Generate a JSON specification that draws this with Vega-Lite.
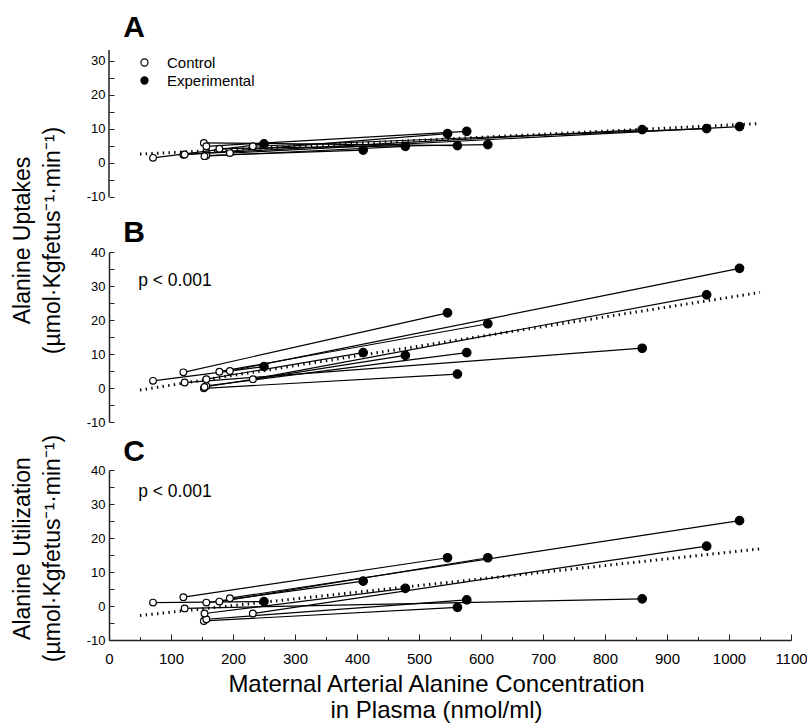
{
  "$schema": "https://vega.github.io/schema/vega-lite/v6.json",
  "background": "white",
  "padding": {"left": 10, "top": 13, "right": 0, "bottom": 2},
  "bounds": "flush",
  "spacing": 48,
  "config": {
    "view": {"stroke": null},
    "font": "Liberation Sans",
    "axis": {"labelColor": "black", "titleColor": "black", "domainColor": "#222", "tickColor": "#222", "domainWidth": 1.5, "tickWidth": 1, "grid": false, "labelFont": "Liberation Sans", "labelFontSize": 13, "titleFontWeight": "normal", "titleFont": "Liberation Sans", "labelOverlap": false, "labelBound": false}
  },
  "resolve": {"legend": {"fill": "independent"}},
  "datasets": {
    "pts": [
      {"panel": "A", "animal": 1, "group": "Control", "x": 71, "y": 1.5},
      {"panel": "A", "animal": 1, "group": "Experimental", "x": 250, "y": 5.6},
      {"panel": "A", "animal": 2, "group": "Control", "x": 120, "y": 2.4},
      {"panel": "A", "animal": 2, "group": "Experimental", "x": 546, "y": 8.6},
      {"panel": "A", "animal": 3, "group": "Control", "x": 122, "y": 2.5},
      {"panel": "A", "animal": 3, "group": "Experimental", "x": 860, "y": 9.8},
      {"panel": "A", "animal": 4, "group": "Control", "x": 157, "y": 2.2},
      {"panel": "A", "animal": 4, "group": "Experimental", "x": 410, "y": 3.8},
      {"panel": "A", "animal": 5, "group": "Control", "x": 178, "y": 4.2},
      {"panel": "A", "animal": 5, "group": "Experimental", "x": 611, "y": 5.4},
      {"panel": "A", "animal": 6, "group": "Control", "x": 195, "y": 2.9},
      {"panel": "A", "animal": 6, "group": "Experimental", "x": 1017, "y": 10.7},
      {"panel": "A", "animal": 7, "group": "Control", "x": 232, "y": 4.9},
      {"panel": "A", "animal": 7, "group": "Experimental", "x": 964, "y": 10.1},
      {"panel": "A", "animal": 8, "group": "Control", "x": 153, "y": 5.9},
      {"panel": "A", "animal": 8, "group": "Experimental", "x": 562, "y": 5.1},
      {"panel": "A", "animal": 9, "group": "Control", "x": 157, "y": 4.9},
      {"panel": "A", "animal": 9, "group": "Experimental", "x": 577, "y": 9.3},
      {"panel": "A", "animal": 10, "group": "Control", "x": 154, "y": 2.0},
      {"panel": "A", "animal": 10, "group": "Experimental", "x": 478, "y": 4.9},
      {"panel": "B", "animal": 1, "group": "Control", "x": 71, "y": 2.1},
      {"panel": "B", "animal": 1, "group": "Experimental", "x": 250, "y": 6.3},
      {"panel": "B", "animal": 2, "group": "Control", "x": 120, "y": 4.6},
      {"panel": "B", "animal": 2, "group": "Experimental", "x": 546, "y": 22.1},
      {"panel": "B", "animal": 3, "group": "Control", "x": 122, "y": 1.6},
      {"panel": "B", "animal": 3, "group": "Experimental", "x": 860, "y": 11.7},
      {"panel": "B", "animal": 4, "group": "Control", "x": 157, "y": 2.6},
      {"panel": "B", "animal": 4, "group": "Experimental", "x": 410, "y": 10.4},
      {"panel": "B", "animal": 5, "group": "Control", "x": 178, "y": 4.8},
      {"panel": "B", "animal": 5, "group": "Experimental", "x": 611, "y": 18.9},
      {"panel": "B", "animal": 6, "group": "Control", "x": 195, "y": 5.0},
      {"panel": "B", "animal": 6, "group": "Experimental", "x": 1017, "y": 35.2},
      {"panel": "B", "animal": 7, "group": "Control", "x": 232, "y": 2.6},
      {"panel": "B", "animal": 7, "group": "Experimental", "x": 964, "y": 27.4},
      {"panel": "B", "animal": 8, "group": "Control", "x": 153, "y": -0.1},
      {"panel": "B", "animal": 8, "group": "Experimental", "x": 562, "y": 4.1},
      {"panel": "B", "animal": 9, "group": "Control", "x": 157, "y": 0.6},
      {"panel": "B", "animal": 9, "group": "Experimental", "x": 577, "y": 10.4},
      {"panel": "B", "animal": 10, "group": "Control", "x": 154, "y": 0.3},
      {"panel": "B", "animal": 10, "group": "Experimental", "x": 478, "y": 9.6},
      {"panel": "C", "animal": 1, "group": "Control", "x": 71, "y": 1.0},
      {"panel": "C", "animal": 1, "group": "Experimental", "x": 250, "y": 1.3},
      {"panel": "C", "animal": 2, "group": "Control", "x": 120, "y": 2.6},
      {"panel": "C", "animal": 2, "group": "Experimental", "x": 546, "y": 14.2},
      {"panel": "C", "animal": 3, "group": "Control", "x": 122, "y": -0.7},
      {"panel": "C", "animal": 3, "group": "Experimental", "x": 860, "y": 2.1},
      {"panel": "C", "animal": 4, "group": "Control", "x": 157, "y": 1.0},
      {"panel": "C", "animal": 4, "group": "Experimental", "x": 410, "y": 7.3},
      {"panel": "C", "animal": 5, "group": "Control", "x": 178, "y": 1.3},
      {"panel": "C", "animal": 5, "group": "Experimental", "x": 611, "y": 14.2},
      {"panel": "C", "animal": 6, "group": "Control", "x": 195, "y": 2.3},
      {"panel": "C", "animal": 6, "group": "Experimental", "x": 1017, "y": 25.1},
      {"panel": "C", "animal": 7, "group": "Control", "x": 232, "y": -2.2},
      {"panel": "C", "animal": 7, "group": "Experimental", "x": 964, "y": 17.6},
      {"panel": "C", "animal": 8, "group": "Control", "x": 153, "y": -4.4},
      {"panel": "C", "animal": 8, "group": "Experimental", "x": 562, "y": -0.4},
      {"panel": "C", "animal": 9, "group": "Control", "x": 157, "y": -3.9},
      {"panel": "C", "animal": 9, "group": "Experimental", "x": 577, "y": 1.8},
      {"panel": "C", "animal": 10, "group": "Control", "x": 154, "y": -2.2},
      {"panel": "C", "animal": 10, "group": "Experimental", "x": 478, "y": 5.2}
    ],
    "reg": [
      {"panel": "A", "x": 50, "y": 2.6},
      {"panel": "A", "x": 1050, "y": 11.6},
      {"panel": "B", "x": 50, "y": -0.6},
      {"panel": "B", "x": 1050, "y": 28.1},
      {"panel": "C", "x": 50, "y": -2.8},
      {"panel": "C", "x": 1050, "y": 16.8}
    ]
  },
  "vconcat": [
    {
      "width": 682,
      "height": 154,
      "layer": [
        {
          "encoding": {
            "x": {"field": "x", "type": "quantitative", "scale": {"domain": [0, 1100], "nice": false}, "axis": null},
            "y": {"field": "y", "type": "quantitative", "scale": {"domain": [-12.06, 33.2], "nice": false, "zero": false},
              "axis": {"domain": false, "values": [-10, -5, 0, 5, 10, 15, 20, 25, 30], "labelExpr": "datum.value % 10 === 0 ? toString(datum.value) : ''", "tickSize": -5, "labelPadding": 9, "labelOverlap": false, "title": null}}
          },
          "layer": [
            {"data": {"name": "pts"}, "transform": [{"filter": "datum.panel === 'A'"}],
             "mark": {"type": "line", "color": "black", "strokeWidth": 1.2},
             "encoding": {"detail": {"field": "animal", "type": "nominal"}}},
            {"data": {"name": "reg"}, "transform": [{"filter": "datum.panel === 'A'"}],
             "mark": {"type": "line", "color": "black", "strokeWidth": 3, "strokeDash": [1.4, 4.3]}},
            {"data": {"name": "pts"}, "transform": [{"filter": "datum.panel === 'A'"}],
             "mark": {"type": "point", "shape": "circle", "filled": true, "stroke": "black", "strokeWidth": 1.2, "opacity": 1},
             "encoding": {
               "fill": {"field": "group", "type": "nominal", "scale": {"domain": ["Control", "Experimental"], "range": ["white", "black"]},
                 "legend": {"title": null, "orient": "none", "legendX": 28, "legendY": 5, "padding": 0, "labelFont": "Liberation Sans", "labelFontSize": 15, "labelColor": "black", "symbolType": "circle", "symbolSize": 50, "symbolStrokeColor": "black", "symbolStrokeWidth": 1.2, "labelOffset": 15, "rowPadding": 2}},
               "size": {"field": "group", "type": "nominal", "scale": {"domain": ["Control", "Experimental"], "range": [45, 72]}, "legend": null}
             }}
          ]
        },
        {"data": {"values": [{"part": "axis"}]},
         "mark": {"type": "rule", "color": "#222", "strokeWidth": 1.5},
         "encoding": {
           "x": {"datum": 0, "type": "quantitative", "axis": null},
           "y": {"datum": -10, "type": "quantitative", "axis": {"domain": false, "values": [-10, -5, 0, 5, 10, 15, 20, 25, 30], "labelExpr": "datum.value % 10 === 0 ? toString(datum.value) : ''", "tickSize": -5, "labelPadding": 9, "labelOverlap": false, "title": null}},
           "y2": {"datum": 33.2}}},
        {"data": {"values": [{"letter": "A"}]},
         "mark": {"type": "text", "align": "left", "baseline": "alphabetic", "fontSize": 30, "fontWeight": "bold", "fill": "black"},
         "encoding": {"text": {"field": "letter", "type": "nominal"},
           "x": {"datum": 23, "type": "quantitative", "axis": null},
           "y": {"datum": 37.0, "type": "quantitative", "axis": {"domain": false, "values": [-10, -5, 0, 5, 10, 15, 20, 25, 30], "labelExpr": "datum.value % 10 === 0 ? toString(datum.value) : ''", "tickSize": -5, "labelPadding": 9, "labelOverlap": false, "title": null}}}}
      ]
    },
    {
      "width": 682,
      "height": 170,
      "layer": [
        {
          "encoding": {
            "x": {"field": "x", "type": "quantitative", "scale": {"domain": [0, 1100], "nice": false}, "axis": null},
            "y": {"field": "y", "type": "quantitative", "scale": {"domain": [-10, 40], "nice": false, "zero": false},
              "axis": {"values": [-10, -5, 0, 5, 10, 15, 20, 25, 30, 35, 40], "labelExpr": "datum.value % 10 === 0 ? toString(datum.value) : ''", "tickSize": -5, "labelPadding": 9, "labelOverlap": false,
                "title": ["Alanine Uptakes", "(µmol·Kgfetus⁻¹·min⁻¹)"], "titleFontSize": 23, "titleLineHeight": 30, "titleBaseline": "middle", "titleAlign": "center", "titleAngle": 270, "titleX": -87, "titleY": -12}}
          },
          "layer": [
            {"data": {"name": "pts"}, "transform": [{"filter": "datum.panel === 'B'"}],
             "mark": {"type": "line", "color": "black", "strokeWidth": 1.2},
             "encoding": {"detail": {"field": "animal", "type": "nominal"}}},
            {"data": {"name": "reg"}, "transform": [{"filter": "datum.panel === 'B'"}],
             "mark": {"type": "line", "color": "black", "strokeWidth": 3, "strokeDash": [1.4, 4.3]}},
            {"data": {"name": "pts"}, "transform": [{"filter": "datum.panel === 'B'"}],
             "mark": {"type": "point", "shape": "circle", "filled": true, "stroke": "black", "strokeWidth": 1.2, "opacity": 1},
             "encoding": {
               "fill": {"field": "group", "type": "nominal", "scale": {"domain": ["Control", "Experimental"], "range": ["white", "black"]}, "legend": null},
               "size": {"field": "group", "type": "nominal", "scale": {"domain": ["Control", "Experimental"], "range": [45, 72]}, "legend": null}
             }}
          ]
        },
        {"data": {"values": [{"letter": "B", "note": "p < 0.001"}]},
         "encoding": {
           "x": {"datum": 23, "type": "quantitative", "axis": null},
           "y": {"datum": 43.0, "type": "quantitative",
             "axis": {"values": [-10, -5, 0, 5, 10, 15, 20, 25, 30, 35, 40], "labelExpr": "datum.value % 10 === 0 ? toString(datum.value) : ''", "tickSize": -5, "labelPadding": 9, "labelOverlap": false,
               "title": ["Alanine Uptakes", "(µmol·Kgfetus⁻¹·min⁻¹)"], "titleFontSize": 23, "titleLineHeight": 30, "titleBaseline": "middle", "titleAlign": "center", "titleAngle": 270, "titleX": -87, "titleY": -12}}
         },
         "layer": [
           {"mark": {"type": "text", "align": "left", "baseline": "alphabetic", "fontSize": 30, "fontWeight": "bold", "fill": "black"},
            "encoding": {"text": {"field": "letter", "type": "nominal"}}},
           {"mark": {"type": "text", "align": "left", "baseline": "middle", "fontSize": 17.5, "fill": "black"},
            "encoding": {"text": {"field": "note", "type": "nominal"}, "x": {"datum": 47, "type": "quantitative", "axis": null},
              "y": {"datum": 31.5, "type": "quantitative",
                "axis": {"values": [-10, -5, 0, 5, 10, 15, 20, 25, 30, 35, 40], "labelExpr": "datum.value % 10 === 0 ? toString(datum.value) : ''", "tickSize": -5, "labelPadding": 9, "labelOverlap": false,
                  "title": ["Alanine Uptakes", "(µmol·Kgfetus⁻¹·min⁻¹)"], "titleFontSize": 23, "titleLineHeight": 30, "titleBaseline": "middle", "titleAlign": "center", "titleAngle": 270, "titleX": -87, "titleY": -12}}}}
         ]}
      ]
    },
    {
      "width": 682,
      "height": 170,
      "layer": [
        {
          "encoding": {
            "x": {"field": "x", "type": "quantitative", "scale": {"domain": [0, 1100], "nice": false},
              "axis": {"values": [0, 50, 100, 150, 200, 250, 300, 350, 400, 450, 500, 550, 600, 650, 700, 750, 800, 850, 900, 950, 1000, 1050, 1100],
                "labelExpr": "datum.value % 100 === 0 ? toString(datum.value) : ''",
                "tickSize": {"condition": {"test": "datum.value % 100 === 0", "value": -6}, "value": -3.5},
                "labelFontSize": 15, "labelPadding": 17, "labelFlush": false, "labelOverlap": false,
                "title": ["Maternal Arterial Alanine Concentration", "in Plasma (nmol/ml)"], "titleFontSize": 24, "titleLineHeight": 26, "titleBaseline": "middle", "titleX": 327, "titleY": 44}},
            "y": {"field": "y", "type": "quantitative", "scale": {"domain": [-10, 40], "nice": false, "zero": false},
              "axis": {"values": [-10, -5, 0, 5, 10, 15, 20, 25, 30, 35, 40], "labelExpr": "datum.value % 10 === 0 ? toString(datum.value) : ''", "tickSize": -5, "labelPadding": 9, "labelOverlap": false,
                "title": ["Alanine Utilization", "(µmol·Kgfetus⁻¹·min⁻¹)"], "titleFontSize": 23, "titleLineHeight": 30, "titleBaseline": "middle", "titleAlign": "center", "titleAngle": 270, "titleX": -87, "titleY": 78}}
          },
          "layer": [
            {"data": {"name": "pts"}, "transform": [{"filter": "datum.panel === 'C'"}],
             "mark": {"type": "line", "color": "black", "strokeWidth": 1.2},
             "encoding": {"detail": {"field": "animal", "type": "nominal"}}},
            {"data": {"name": "reg"}, "transform": [{"filter": "datum.panel === 'C'"}],
             "mark": {"type": "line", "color": "black", "strokeWidth": 3, "strokeDash": [1.4, 4.3]}},
            {"data": {"name": "pts"}, "transform": [{"filter": "datum.panel === 'C'"}],
             "mark": {"type": "point", "shape": "circle", "filled": true, "stroke": "black", "strokeWidth": 1.2, "opacity": 1},
             "encoding": {
               "fill": {"field": "group", "type": "nominal", "scale": {"domain": ["Control", "Experimental"], "range": ["white", "black"]}, "legend": null},
               "size": {"field": "group", "type": "nominal", "scale": {"domain": ["Control", "Experimental"], "range": [45, 72]}, "legend": null}
             }}
          ]
        },
        {"data": {"values": [{"letter": "C", "note": "p < 0.001"}]},
         "encoding": {
           "x": {"datum": 23, "type": "quantitative",
             "axis": {"values": [0, 50, 100, 150, 200, 250, 300, 350, 400, 450, 500, 550, 600, 650, 700, 750, 800, 850, 900, 950, 1000, 1050, 1100],
               "labelExpr": "datum.value % 100 === 0 ? toString(datum.value) : ''",
               "tickSize": {"condition": {"test": "datum.value % 100 === 0", "value": -6}, "value": -3.5},
               "labelFontSize": 15, "labelPadding": 17, "labelFlush": false, "labelOverlap": false,
               "title": ["Maternal Arterial Alanine Concentration", "in Plasma (nmol/ml)"], "titleFontSize": 24, "titleLineHeight": 26, "titleBaseline": "middle", "titleX": 327, "titleY": 44}},
           "y": {"datum": 42.65, "type": "quantitative",
             "axis": {"values": [-10, -5, 0, 5, 10, 15, 20, 25, 30, 35, 40], "labelExpr": "datum.value % 10 === 0 ? toString(datum.value) : ''", "tickSize": -5, "labelPadding": 9, "labelOverlap": false,
               "title": ["Alanine Utilization", "(µmol·Kgfetus⁻¹·min⁻¹)"], "titleFontSize": 23, "titleLineHeight": 30, "titleBaseline": "middle", "titleAlign": "center", "titleAngle": 270, "titleX": -87, "titleY": 78}}
         },
         "layer": [
           {"mark": {"type": "text", "align": "left", "baseline": "alphabetic", "fontSize": 30, "fontWeight": "bold", "fill": "black"},
            "encoding": {"text": {"field": "letter", "type": "nominal"}}},
           {"mark": {"type": "text", "align": "left", "baseline": "middle", "fontSize": 17.5, "fill": "black"},
            "encoding": {"text": {"field": "note", "type": "nominal"},
              "x": {"datum": 47, "type": "quantitative",
                "axis": {"values": [0, 50, 100, 150, 200, 250, 300, 350, 400, 450, 500, 550, 600, 650, 700, 750, 800, 850, 900, 950, 1000, 1050, 1100],
                  "labelExpr": "datum.value % 100 === 0 ? toString(datum.value) : ''",
                  "tickSize": {"condition": {"test": "datum.value % 100 === 0", "value": -6}, "value": -3.5},
                  "labelFontSize": 15, "labelPadding": 17, "labelFlush": false, "labelOverlap": false,
                  "title": ["Maternal Arterial Alanine Concentration", "in Plasma (nmol/ml)"], "titleFontSize": 24, "titleLineHeight": 26, "titleBaseline": "middle", "titleX": 327, "titleY": 44}},
              "y": {"datum": 33.5, "type": "quantitative",
                "axis": {"values": [-10, -5, 0, 5, 10, 15, 20, 25, 30, 35, 40], "labelExpr": "datum.value % 10 === 0 ? toString(datum.value) : ''", "tickSize": -5, "labelPadding": 9, "labelOverlap": false,
                  "title": ["Alanine Utilization", "(µmol·Kgfetus⁻¹·min⁻¹)"], "titleFontSize": 23, "titleLineHeight": 30, "titleBaseline": "middle", "titleAlign": "center", "titleAngle": 270, "titleX": -87, "titleY": 78}}}}
         ]}
      ]
    }
  ]
}
